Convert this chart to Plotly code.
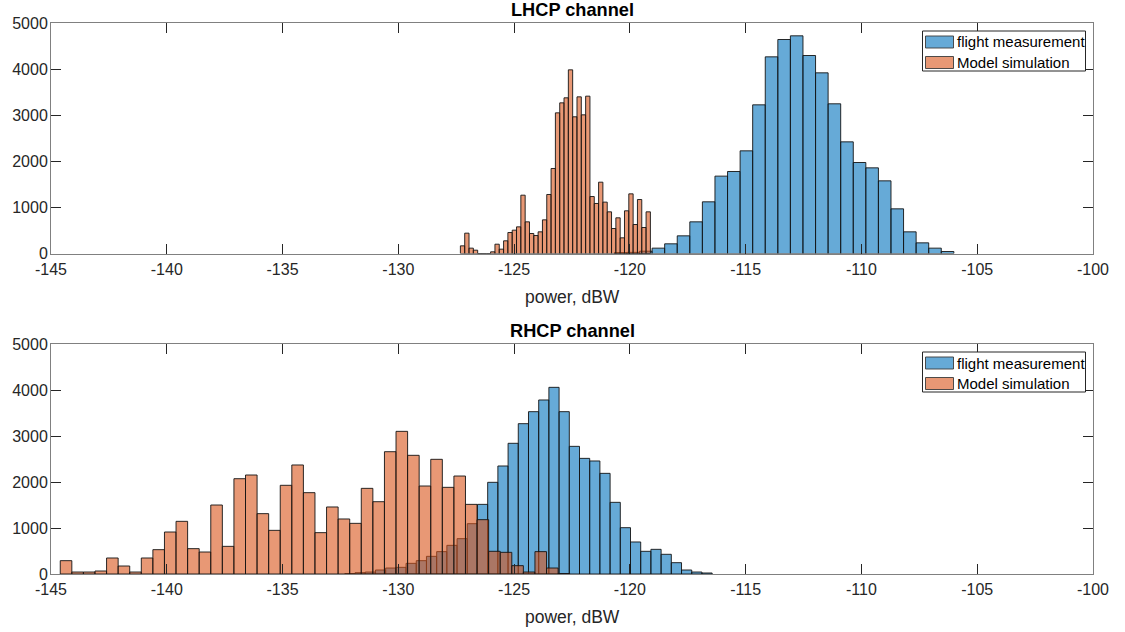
import numpy as np
import plotly.graph_objects as go

# ---------------- data ----------------
x_ticks = [-145, -140, -135, -130, -125, -120, -115, -110, -105, -100]
x_tick_labels = ["-145", "-140", "-135", "-130", "-125", "-120", "-115", "-110", "-105", "-100"]
y_ticks = [0, 1000, 2000, 3000, 4000, 5000]
series_names = ["flight measurement", "Model simulation"]
panel_titles = ["LHCP channel", "RHCP channel"]
x_label = "power, dBW"

# LHCP channel
lhcp_flight_first_edge = -120.67
lhcp_flight_bin_width = 0.543
lhcp_flight_counts = [20, 25, 50, 116, 210, 383, 687, 1121, 1678, 1779, 2227, 3225, 4266,
                      4642, 4722, 4295, 3919, 3247, 2422, 1974, 1858, 1576, 969, 470, 231,
                      116, 43]

lhcp_model_first_edge = -127.32
lhcp_model_bin_width = 0.1865
lhcp_model_counts = [166, 441, 116, 72, 0, 0, 0, 36, 202, 94, 275, 455, 506, 578, 1265, 687,
                     434, 390, 470, 730, 1280, 1844, 3051, 3268, 3377, 3984, 2965, 3398, 3008,
                     3413, 1236, 1085, 1547, 1114, 904, 542, 774, 340, 926, 1294, 629, 1171,
                     564, 904]

# RHCP channel
rhcp_flight_first_edge = -132.31
rhcp_flight_bin_width = 0.4406
rhcp_flight_counts = [10, 29, 43, 87, 130, 145, 232, 290, 384, 486, 623, 768, 1094, 1514, 1993,
                      2348, 2841, 3268, 3529, 3783, 4058, 3529, 2775, 2514, 2457, 2188, 1558,
                      1007, 696, 493, 536, 428, 246, 87, 43, 22]

rhcp_model_first_edge = -144.6
rhcp_model_bin_width = 0.5
rhcp_model_counts = [290, 43, 43, 65, 348, 174, 43, 348, 529, 913, 1145, 551, 478, 1500, 601,
                     2072, 2152, 1312, 949, 1928, 2370, 1768, 899, 1457, 1196, 1101, 1862, 1572,
                     2659, 3101, 2580, 1913, 2493, 1884, 2130, 1514, 1181, 493, 471, 181, 43,
                     486, 130, 10]


def centers(first_edge, width, counts):
    return first_edge + width * (np.arange(len(counts)) + 0.5)


# ---------------- styles ----------------
BLUE = "rgba(0,114,189,0.6)"
ORANGE = "rgba(217,83,25,0.6)"
EDGE = "rgba(20,20,20,0.9)"
AXIS = "#808080"
TXT = "#262626"
FONT = "Liberation Sans, Arial, Helvetica, sans-serif"

W, H = 1125, 632
ml, mr, mt, mb = 51, 32, 23, 58
plot_w = W - ml - mr
plot_h = H - mt - mb


def py(pix):
    # pixel row -> paper y
    return (H - mb - pix) / plot_h


def px(pix):
    # pixel column -> paper x
    return (pix - ml) / plot_w


fig = go.Figure()

panels = [
    (lhcp_flight_first_edge, lhcp_flight_bin_width, lhcp_flight_counts,
     lhcp_model_first_edge, lhcp_model_bin_width, lhcp_model_counts, "x", "y"),
    (rhcp_flight_first_edge, rhcp_flight_bin_width, rhcp_flight_counts,
     rhcp_model_first_edge, rhcp_model_bin_width, rhcp_model_counts, "x2", "y2"),
]

for fe, fw, fc, me, mw, mc, xa, ya in panels:
    fig.add_trace(go.Bar(
        x=centers(fe, fw, fc), y=fc, width=fw, name=series_names[0],
        marker=dict(color=BLUE, line=dict(color=EDGE, width=1)),
        xaxis=xa, yaxis=ya, showlegend=False, hoverinfo="x+y"))
    fig.add_trace(go.Bar(
        x=centers(me, mw, mc), y=mc, width=mw, name=series_names[1],
        marker=dict(color=ORANGE, line=dict(color=EDGE, width=1)),
        xaxis=xa, yaxis=ya, showlegend=False, hoverinfo="x+y"))

axis_common = dict(
    showline=True, linecolor=AXIS, linewidth=1, mirror="ticks",
    ticks="inside", ticklen=10, tickcolor=TXT, tickwidth=1,
    showgrid=False, zeroline=False, automargin=False,
    tickfont=dict(family=FONT, size=16, color=TXT),
)

xaxis_common = dict(axis_common, range=[-145, -100], tickvals=x_ticks, ticktext=x_tick_labels,
                    ticklabelstandoff=1)
yaxis_common = dict(axis_common, range=[0, 5000], tickvals=y_ticks, tickformat="d",
                    ticklabelstandoff=-1)

top_lo = py(253.5)
bot_hi = py(344)

shapes = []
annotations = []

# titles and x labels
for title, tcy, lcy in [(panel_titles[0], 10.5, 297), (panel_titles[1], 330.5, 617)]:
    annotations.append(dict(text="<b>" + title + "</b>", x=0.5, xref="paper", y=py(tcy),
                            yref="paper", xanchor="center", yanchor="middle", showarrow=False,
                            font=dict(family=FONT, size=18.2, color="black")))
    annotations.append(dict(text=x_label, x=0.5, xref="paper", y=py(lcy), yref="paper",
                            xanchor="center", yanchor="middle", showarrow=False,
                            font=dict(family=FONT, size=17.5, color=TXT)))

# legends (one per panel), drawn as boxed patches with text labels
for box_top in [31, 352]:
    shapes.append(dict(type="rect", xref="paper", yref="paper",
                       x0=px(922.5), x1=px(1085.5), y0=py(box_top), y1=py(box_top + 40),
                       line=dict(color=TXT, width=1), fillcolor="white", layer="above"))
    for k, (name, col) in enumerate(zip(series_names, [BLUE, ORANGE])):
        row_c = box_top + 11 + k * 20.5
        shapes.append(dict(type="rect", xref="paper", yref="paper",
                           x0=px(925.5), x1=px(953.5), y0=py(row_c - 6), y1=py(row_c + 6),
                           line=dict(color="rgba(60,60,60,0.9)", width=1), fillcolor=col,
                           layer="above"))
        annotations.append(dict(text=name, x=px(955), xref="paper", y=py(row_c), yref="paper",
                                xanchor="left", yanchor="middle", showarrow=False,
                                font=dict(family=FONT, size=15, color="black")))

fig.update_layout(
    width=W, height=H,
    margin=dict(l=ml, r=mr, t=mt, b=mb, autoexpand=False),
    paper_bgcolor="white", plot_bgcolor="white",
    barmode="overlay",
    font=dict(family=FONT, color=TXT),
    xaxis=dict(xaxis_common, domain=[0, 1], anchor="y"),
    yaxis=dict(yaxis_common, domain=[top_lo, 1], anchor="x"),
    xaxis2=dict(xaxis_common, domain=[0, 1], anchor="y2"),
    yaxis2=dict(yaxis_common, domain=[0, bot_hi], anchor="x2"),
    shapes=shapes,
    annotations=annotations,
    showlegend=False,
)

fig.write_html("out.html",
               config={"displayModeBar": False},
               post_script="document.body.style.margin='0px';document.body.style.overflow='hidden';")
